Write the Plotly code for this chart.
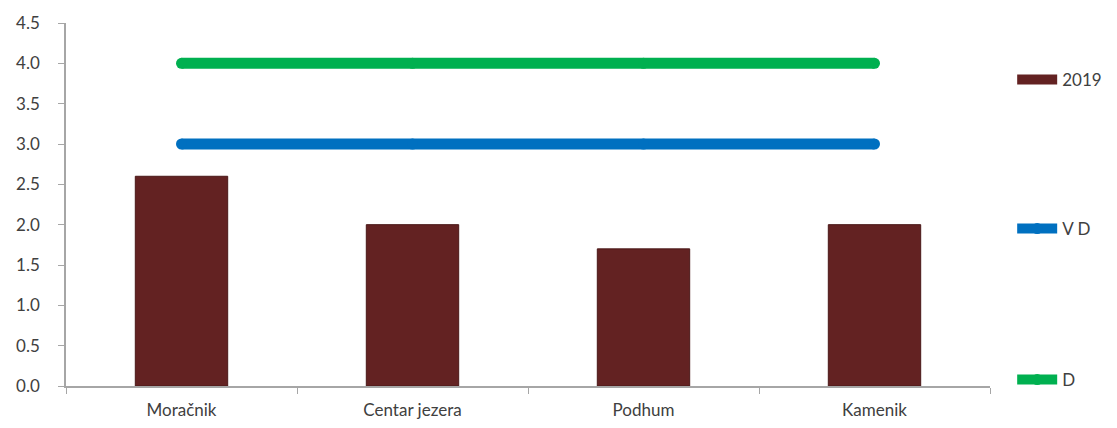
import plotly.graph_objects as go

categories = ["Moračnik", "Centar jezera", "Podhum", "Kamenik"]
values_2019 = [2.6, 2.0, 1.7, 2.0]
vd_values = [3.0, 3.0, 3.0, 3.0]
d_values = [4.0, 4.0, 4.0, 4.0]
y_ticks = [0.0, 0.5, 1.0, 1.5, 2.0, 2.5, 3.0, 3.5, 4.0, 4.5]

font_family = "Lato, Open Sans, Arial, sans-serif"
text_color = "#404040"
bar_color = "#632222"

fig = go.Figure()
fig.add_trace(go.Bar(
    x=categories, y=values_2019, name="2019",
    marker=dict(color=bar_color, line=dict(color="#4a1818", width=1)),
    showlegend=False,
))
# legend-only swatch for the bars (wide rectangle like the original)
fig.add_trace(go.Scatter(
    x=[None], y=[None], name="2019", mode="lines",
    line=dict(color=bar_color, width=13),
    legend="legend", showlegend=True, hoverinfo="skip",
))
fig.add_trace(go.Scatter(
    x=categories, y=vd_values, name="V D", mode="lines+markers",
    line=dict(color="#0070C0", width=11),
    marker=dict(color="#0070C0", size=11),
    legend="legend2", showlegend=True,
))
fig.add_trace(go.Scatter(
    x=categories, y=d_values, name="D", mode="lines+markers",
    line=dict(color="#00B050", width=11),
    marker=dict(color="#00B050", size=11),
    legend="legend3", showlegend=True,
))

legend_common = dict(
    xanchor="left", yanchor="middle", x=1.024,
    font=dict(family=font_family, size=17, color=text_color),
    bgcolor="rgba(0,0,0,0)", itemwidth=40,
)

fig.update_layout(
    width=1117, height=428,
    margin=dict(l=66, r=127, t=23, b=42, autoexpand=False),
    paper_bgcolor="white", plot_bgcolor="white",
    font=dict(family=font_family, size=17, color=text_color),
    showlegend=True,
    bargap=0.6,
    legend=dict(y=0.843, **legend_common),
    legend2=dict(y=0.4325, **legend_common),
    legend3=dict(y=0.0165, **legend_common),
    xaxis=dict(
        type="category", showline=True, linecolor="#a6a6a6", linewidth=1.5,
        ticks="outside", tickson="boundaries", ticklen=6, tickcolor="#a6a6a6",
        showgrid=False, tickfont=dict(size=17, color=text_color),
        ticklabelstandoff=8, automargin=False,
    ),
    yaxis=dict(
        range=[0, 4.5], tickvals=y_ticks, ticktext=[f"{v:.1f}" for v in y_ticks],
        showline=True, linecolor="#a6a6a6", linewidth=1.5,
        ticks="outside", ticklen=6, tickcolor="#a6a6a6",
        showgrid=False, zeroline=False, tickfont=dict(size=17, color=text_color),
        ticklabelstandoff=15, automargin=False,
    ),
)

fig.write_html("out.html")
